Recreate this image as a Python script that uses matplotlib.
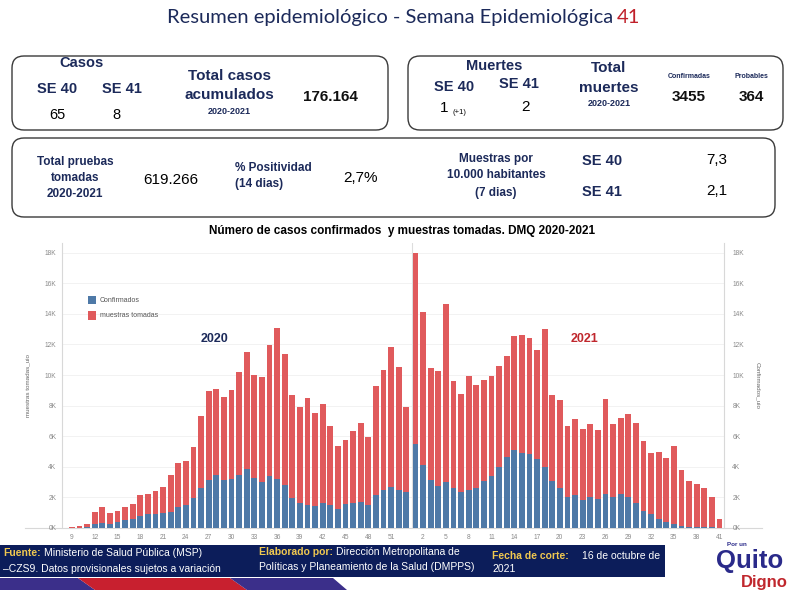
import numpy as np
import matplotlib
matplotlib.use("Agg")
import matplotlib.pyplot as plt
from matplotlib.patches import FancyBboxPatch, Rectangle, Polygon
from matplotlib.ticker import FuncFormatter

plt.rcParams['font.family'] = ['Liberation Sans', 'DejaVu Sans']

# epidemiological weeks
weeks_2020 = list(range(9, 54))
weeks_2021 = list(range(1, 42))

muestras_2020 = [50, 100, 250, 1040, 1370, 960, 1090, 1350, 1570, 2170,
                 2240, 2410, 2650, 3460, 4260, 4390, 5280, 7300, 8980, 9100,
                 8570, 9040, 10200, 11500, 10000, 9850, 11980, 13100, 11350, 8700,
                 7900, 8520, 7500, 8130, 6670, 5370, 5760, 6330, 6870, 5930,
                 9260, 10330, 11850, 10520, 7900]
confirmados_2020 = [0, 20, 50, 260, 300, 260, 370, 500, 600, 800,
                    890, 930, 960, 1060, 1350, 1480, 1960, 2630, 3170, 3460,
                    3110, 3220, 3480, 3830, 3280, 3000, 3390, 3200, 2830, 1960,
                    1650, 1520, 1410, 1610, 1480, 1260, 1590, 1650, 1670, 1520,
                    2170, 2480, 2650, 2460, 2350]
muestras_2021 = [18000, 14150, 10460, 10280, 14650, 9630, 8780, 9960, 9350, 9670,
                 9910, 10570, 11240, 12540, 12630, 12430, 11670, 12980, 8700, 8350,
                 6670, 7110, 6500, 6800, 6390, 8410, 6800, 7170, 7460, 6890,
                 5720, 4890, 4960, 4590, 5330, 3760, 3070, 2850, 2610, 2020, 590]
confirmados_2021 = [5480, 4110, 3170, 2740, 3040, 2630, 2370, 2460, 2590, 3090,
                    3410, 3980, 4630, 5070, 4890, 4850, 4480, 3980, 3070, 2630,
                    2040, 2130, 1830, 2000, 1910, 2200, 2040, 2200, 2020, 1630,
                    1110, 890, 590, 390, 260, 150, 90, 70, 40, 65, 8]

ticks_2020 = list(range(9, 52, 3))
ticks_2021 = list(range(2, 42, 3))

NAVY = '#1c2a5a'
BLUE = '#4e79a7'
RED = '#e05a5c'

W, H = 800, 593
fig = plt.figure(figsize=(8, 5.93), dpi=100)

# background layer in pixel coordinates
bg = fig.add_axes([0, 0, 1, 1])
bg.set_xlim(0, W)
bg.set_ylim(H, 0)
bg.axis('off')


def txt(x, y, s, size, bold=True, color=NAVY, ha='center', **kw):
    return bg.text(x, y, s, fontsize=size, fontweight='bold' if bold else 'normal',
                   color=color, ha=ha, va='center', **kw)


def box(x0, y0, x1, y1):
    bg.add_patch(FancyBboxPatch((x0, y0), x1 - x0, y1 - y0,
                                boxstyle="round,pad=0,rounding_size=12",
                                fc='white', ec='#3a3a3a', lw=1.0))


# title
title_font = ['Lato', 'DejaVu Sans']
bg.text(613, 23, 'Resumen epidemiológico - Semana Epidemiológica', fontsize=14.5,
        color=NAVY, ha='right', va='baseline', family=title_font)
bg.text(617, 23, '41', fontsize=14.5, color='#c0202a', ha='left', va='baseline',
        family=title_font)

# summary boxes
box(12, 56, 388, 130)
box(408, 56, 783, 130)
box(12, 138, 775, 217)

txt(82, 63, 'Casos', 10.5)
txt(57, 89, 'SE 40', 10.5)
txt(122, 89, 'SE 41', 10.5)
txt(57, 115, '65', 10.5, bold=False, color='black')
txt(116, 115, '8', 10.5, bold=False, color='black')
txt(229, 76, 'Total casos', 11)
txt(229, 95, 'acumulados', 11)
txt(229, 111, '2020-2021', 6.5)
txt(330, 97, '176.164', 11, color='#111111')

txt(494, 66, 'Muertes', 10.5)
txt(454, 87, 'SE 40', 10.5)
txt(519, 84, 'SE 41', 10.5)
txt(444, 108, '1', 11, bold=False, color='black')
txt(459, 113, '(+1)', 5.5, bold=False, color='black')
txt(525, 107, '2', 11, bold=False, color='black')
txt(609, 68, 'Total', 11)
txt(609, 88, 'muertes', 11)
txt(609, 103, '2020-2021', 6.5)
txt(689, 76, 'Confirmadas', 5)
txt(751, 76, 'Probables', 5)
txt(689, 97, '3455', 11, color='#111111')
txt(751, 97, '364', 11, color='#111111')

txt(75, 162, 'Total pruebas', 8.5)
txt(75, 178, 'tomadas', 8.5)
txt(75, 194, '2020-2021', 8.5)
txt(171, 180, '619.266', 11, bold=False, color='black')
txt(235, 168, '% Positividad', 8.5, ha='left')
txt(235, 184, '(14 dias)', 8.5, ha='left')
txt(361, 178, '2,7%', 11, bold=False, color='black')
txt(496, 159, 'Muestras por', 8.5)
txt(496, 175, '10.000 habitantes', 8.5)
txt(496, 193, '(7 dias)', 8.5)
txt(602, 161, 'SE 40', 10.5)
txt(602, 192, 'SE 41', 10.5)
txt(717, 160, '7,3', 11, bold=False, color='black')
txt(717, 191, '2,1', 11, bold=False, color='black')

txt(402, 231, 'Número de casos confirmados  y muestras tomadas. DMQ 2020-2021', 8.5,
    color='black')

# chart baseline extends past the axes
bg.plot([25, 762], [528, 528], color='#d8d8d8', lw=0.8)

# footer band
bg.add_patch(Rectangle((0, 545), 665, 32, fc='#0c1d5a', ec='none'))
bg.add_patch(Polygon([(0, 578), (78, 578), (95, 590), (0, 590)], fc='#3b2f8a', ec='none'))
bg.add_patch(Polygon([(78, 578), (230, 578), (247, 590), (95, 590)], fc='#c8202f', ec='none'))
bg.add_patch(Polygon([(230, 578), (333, 578), (347, 590), (247, 590)], fc='#3b2f8a', ec='none'))

narrow = ['Liberation Sans Narrow', 'Liberation Sans']
GOLD = '#f0c850'
renderer = fig.canvas.get_renderer()


def footer_line(x, y, lead, rest):
    t = bg.text(x, y, lead, fontsize=7.5, color=GOLD, fontweight='bold', ha='left',
                va='center', family=narrow)
    if rest:
        bb = t.get_window_extent(renderer=renderer)
        bg.text(bb.x1 + 3, y, rest, fontsize=7.5, color='white', ha='left',
                va='center', family=narrow)


footer_line(3, 553, 'Fuente:', 'Ministerio de Salud Pública (MSP)')
bg.text(3, 569, '–CZS9. Datos provisionales sujetos a variación', fontsize=7.5,
        color='white', ha='left', va='center', family=narrow)
footer_line(259, 552, 'Elaborado por:', 'Dirección Metropolitana de')
bg.text(259, 567, 'Políticas y Planeamiento de la Salud (DMPPS)', fontsize=7.5,
        color='white', ha='left', va='center', family=narrow)
bg.text(492, 556, 'Fecha de corte:', fontsize=7.5, color=GOLD, fontweight='bold',
        ha='left', va='center', family=narrow)
bg.text(660, 556, '16 de octubre de', fontsize=7.5, color='white', ha='right',
        va='center', family=narrow)
bg.text(492, 569, '2021', fontsize=7.5, color='white', ha='left', va='center', family=narrow)

# logo
bg.text(737, 544, 'Por un', fontsize=4.5, fontweight='bold', color='#2a2a8a', ha='center', va='center')
bg.text(750, 561, 'Quito', fontsize=18.5, fontweight='bold', color='#2a2a8a', ha='center', va='center')
bg.text(764, 582, 'Digno', fontsize=12, fontweight='bold', color='#c0272d', ha='center', va='center')

# bar chart
x20 = np.arange(len(weeks_2020))
x21 = np.arange(len(weeks_2021)) + len(weeks_2020) + 0.2
ymax = 18634

ax = fig.add_axes([62 / W, 1 - 528 / H, (724 - 62) / W, (528 - 243) / H])
ax.patch.set_alpha(0)
for xs, mu, co in [(x20, muestras_2020, confirmados_2020), (x21, muestras_2021, confirmados_2021)]:
    ax.bar(xs, mu, width=0.76, color=RED, zorder=2)
    ax.bar(xs, co, width=0.76, color=BLUE, zorder=3)

ax.set_xlim(-1.3, 85.8)
ax.set_ylim(0, ymax)
ax.axvline(44.7, color='#dddddd', lw=0.8, zorder=1)
yt = np.arange(0, 18001, 2000)
ax.set_yticks(yt)
kfmt = FuncFormatter(lambda v, p: '%dK' % (v / 1000))
ax.yaxis.set_major_formatter(kfmt)
ax.grid(axis='y', color='#f0f0f0', lw=0.6, zorder=0)
ax.set_axisbelow(True)
xt = [x20[weeks_2020.index(w)] for w in ticks_2020] + [x21[weeks_2021.index(w)] for w in ticks_2021]
ax.set_xticks(xt)
ax.set_xticklabels([str(w) for w in ticks_2020 + ticks_2021])
ax.tick_params(axis='both', length=0, labelsize=4.8, labelcolor='#8a8a8a', pad=4)
for s in ['top', 'bottom', 'right']:
    ax.spines[s].set_visible(False)
ax.spines['left'].set_color('#d8d8d8')
ax.spines['left'].set_linewidth(0.8)
ax.set_ylabel('muestras tomadas_uio', fontsize=4.5, color='#666666', labelpad=10)

ax2 = ax.twinx()
ax2.set_ylim(0, ymax)
ax2.set_yticks(yt)
ax2.yaxis.set_major_formatter(kfmt)
ax2.tick_params(axis='y', length=0, labelsize=4.8, labelcolor='#8a8a8a', pad=6)
for s in ['top', 'bottom', 'left']:
    ax2.spines[s].set_visible(False)
ax2.spines['right'].set_color('#d8d8d8')
ax2.spines['right'].set_linewidth(0.8)
ax2.set_ylabel('Confirmados_uio', fontsize=4.5, color='#666666', rotation=-90, labelpad=12)

ax.text(18.8, 12350, '2020', fontsize=9, fontweight='bold', color='#1c2a5a', ha='center', va='center')
ax.text(67.5, 12350, '2021', fontsize=9, fontweight='bold', color='#c0272d', ha='center', va='center')

# legend
ax.add_patch(Rectangle((0.04, 0.785), 0.011, 0.03, transform=ax.transAxes, fc=BLUE, ec='none', clip_on=False))
ax.add_patch(Rectangle((0.04, 0.73), 0.011, 0.03, transform=ax.transAxes, fc=RED, ec='none', clip_on=False))
ax.text(0.057, 0.80, 'Confirmados', transform=ax.transAxes, fontsize=5, color='#555555', va='center')
ax.text(0.057, 0.745, 'muestras tomadas', transform=ax.transAxes, fontsize=5, color='#555555', va='center')

fig.savefig('out.png', dpi=100)
